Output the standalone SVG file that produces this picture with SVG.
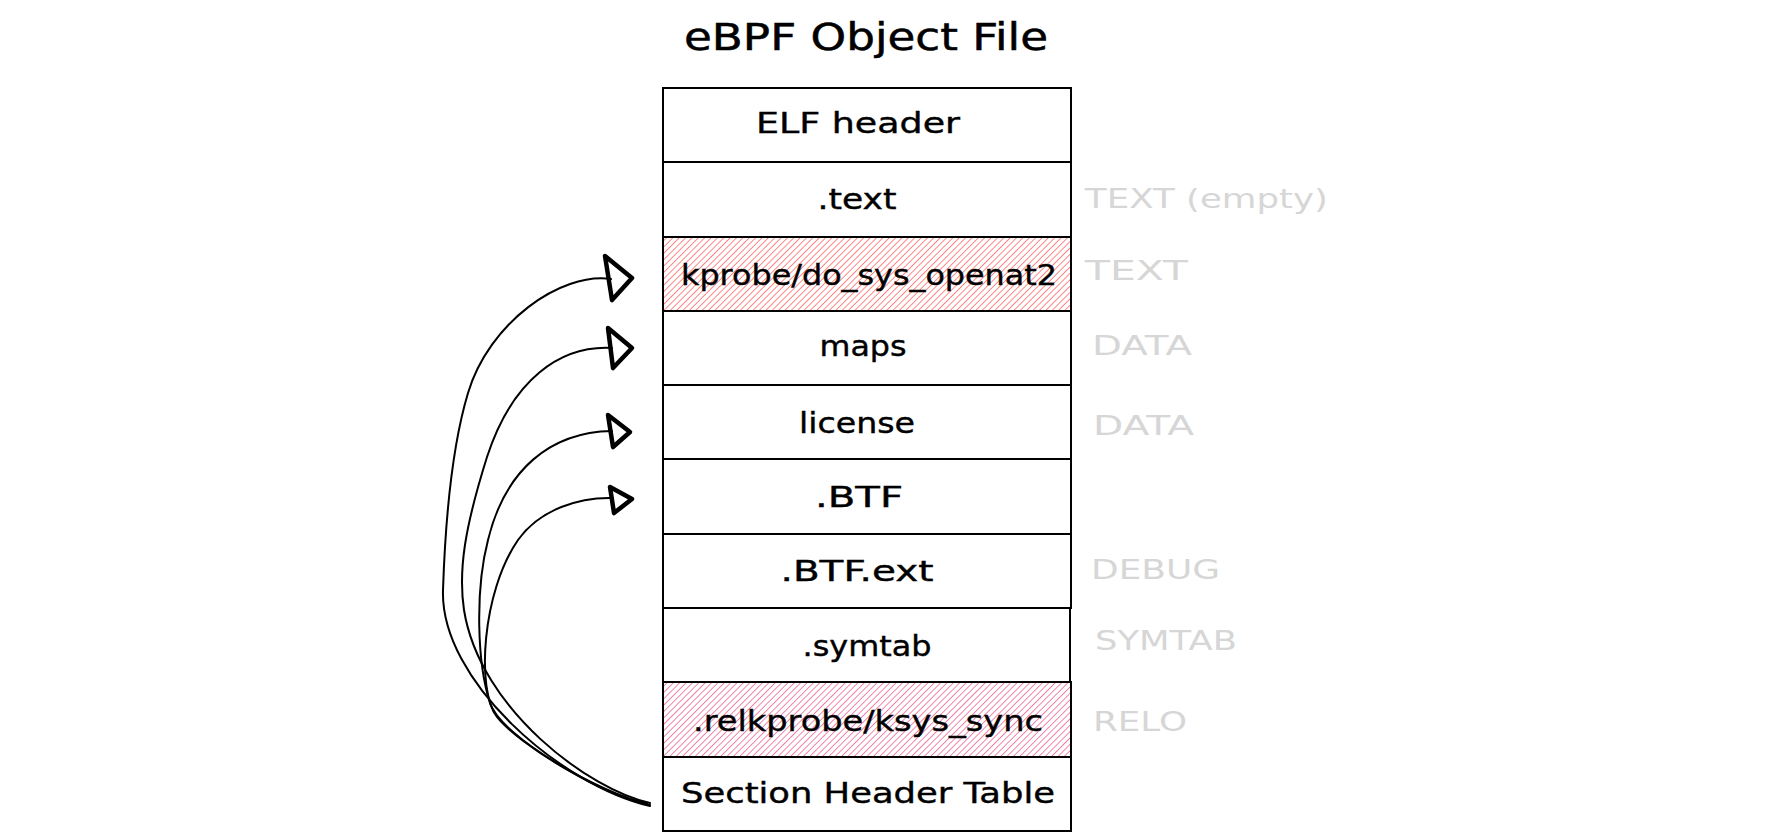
<svg xmlns="http://www.w3.org/2000/svg" width="1770" height="840" viewBox="0 0 1770 840">
  <defs>
    <pattern id="hatchRed" patternUnits="userSpaceOnUse" width="4.5" height="4.5" patternTransform="rotate(45)">
      <line x1="0" y1="0" x2="0" y2="4.5" stroke="#ff6b6b" stroke-width="1.6"/>
    </pattern>
    <pattern id="hatchPink" patternUnits="userSpaceOnUse" width="4.5" height="4.5" patternTransform="rotate(45)">
      <line x1="0" y1="0" x2="0" y2="4.5" stroke="#ec6a98" stroke-width="1.6"/>
    </pattern>
    <style>
      .row { fill: #ffffff; stroke: #000000; stroke-width: 2; }
      .hr { fill: url(#hatchRed); stroke: #000000; stroke-width: 2; }
      .hp { fill: url(#hatchPink); stroke: #000000; stroke-width: 2; }
      .lbl { font-family: "DejaVu Sans", "Liberation Sans", sans-serif; font-size: 28px; fill: #000000; stroke: #000000; stroke-width: 0.4; text-anchor: middle; }
      .title { font-family: "DejaVu Sans", "Liberation Sans", sans-serif; font-size: 37px; fill: #000000; stroke: #000000; stroke-width: 0.5; text-anchor: middle; }
      .side { font-family: "DejaVu Sans", "Liberation Sans", sans-serif; font-size: 27px; fill: #d6d6d6; text-anchor: start; }
      .curve { fill: none; stroke: #000000; stroke-width: 2; stroke-linecap: round; stroke-linejoin: round; }
      .head { fill: none; stroke: #000000; stroke-width: 4.5; stroke-linecap: round; stroke-linejoin: round; }
    </style>
  </defs>
  <rect width="1770" height="840" fill="#ffffff"/>

  <g id="title">
    <text class="title" x="866" y="50" textLength="364" lengthAdjust="spacingAndGlyphs">eBPF Object File</text>
  </g>

  <g id="elf-header">
    <rect class="row" x="663" y="88" width="408" height="74"/>
    <text class="lbl" x="858" y="133" textLength="204" lengthAdjust="spacingAndGlyphs">ELF header</text>
  </g>
  <g id="text-section">
    <rect class="row" x="663" y="162" width="408" height="75"/>
    <text class="lbl" x="857" y="209" textLength="79" lengthAdjust="spacingAndGlyphs">.text</text>
  </g>
  <g id="kprobe-section">
    <rect class="hr" x="663" y="237" width="408" height="74"/>
    <text class="lbl" x="869" y="285" textLength="376" lengthAdjust="spacingAndGlyphs">kprobe/do_sys_openat2</text>
  </g>
  <g id="maps-section">
    <rect class="row" x="663" y="311" width="408" height="74"/>
    <text class="lbl" x="863" y="356" textLength="87" lengthAdjust="spacingAndGlyphs">maps</text>
  </g>
  <g id="license-section">
    <rect class="row" x="663" y="385" width="408" height="74"/>
    <text class="lbl" x="857" y="433" textLength="116" lengthAdjust="spacingAndGlyphs">license</text>
  </g>
  <g id="btf-section">
    <rect class="row" x="663" y="459" width="408" height="75"/>
    <text class="lbl" x="859" y="507" textLength="88" lengthAdjust="spacingAndGlyphs">.BTF</text>
  </g>
  <g id="btf-ext-section">
    <rect class="row" x="663" y="534" width="408" height="74"/>
    <text class="lbl" x="857" y="581" textLength="153" lengthAdjust="spacingAndGlyphs">.BTF.ext</text>
  </g>
  <g id="symtab-section">
    <rect class="row" x="663" y="608" width="407" height="74"/>
    <text class="lbl" x="867" y="656" textLength="129" lengthAdjust="spacingAndGlyphs">.symtab</text>
  </g>
  <g id="rel-section">
    <rect class="hp" x="663" y="682" width="408" height="75"/>
    <text class="lbl" x="868" y="731" textLength="350" lengthAdjust="spacingAndGlyphs">.relkprobe/ksys_sync</text>
  </g>
  <g id="section-header-table">
    <rect class="row" x="663" y="757" width="408" height="74"/>
    <text class="lbl" x="868" y="803" textLength="374" lengthAdjust="spacingAndGlyphs">Section Header Table</text>
  </g>

  <g id="side-labels">
    <text class="side" x="1085" y="208" textLength="243" lengthAdjust="spacingAndGlyphs">TEXT (empty)</text>
    <text class="side" x="1085" y="280" textLength="103" lengthAdjust="spacingAndGlyphs">TEXT</text>
    <text class="side" x="1092" y="355" textLength="100" lengthAdjust="spacingAndGlyphs">DATA</text>
    <text class="side" x="1093" y="435" textLength="101" lengthAdjust="spacingAndGlyphs">DATA</text>
    <text class="side" x="1091" y="579" textLength="129" lengthAdjust="spacingAndGlyphs">DEBUG</text>
    <text class="side" x="1095" y="650" textLength="142" lengthAdjust="spacingAndGlyphs">SYMTAB</text>
    <text class="side" x="1093" y="731" textLength="94" lengthAdjust="spacingAndGlyphs">RELO</text>
  </g>

  <g id="connectors">
    <path class="curve" d="M650,806 C560,785 440,680 443,590 C445,530 450,453 468,393 C489,323 560,272 611,279"/>
    <path class="head" d="M605,256 L632,278 L612,300 Z"/>

    <path class="curve" d="M650,803 C590,790 480,710 464,610 C458,570 465,527 487,457 C512,380 560,345 612,348"/>
    <path class="head" d="M608,328 L632,348 L613,368 Z"/>

    <path class="curve" d="M650,805 C600,793 502,738 490,703 C477,663 475,590 488,540 C505,470 550,432 612,431"/>
    <path class="head" d="M608,415 L630,432 L613,447 Z"/>

    <path class="curve" d="M647,803 C605,797 518,744 497,717 C476,690 482,592 518,540 C540,509 580,497 613,498"/>
    <path class="head" d="M610,487 L632,499 L614,513 Z"/>
  </g>
</svg>
